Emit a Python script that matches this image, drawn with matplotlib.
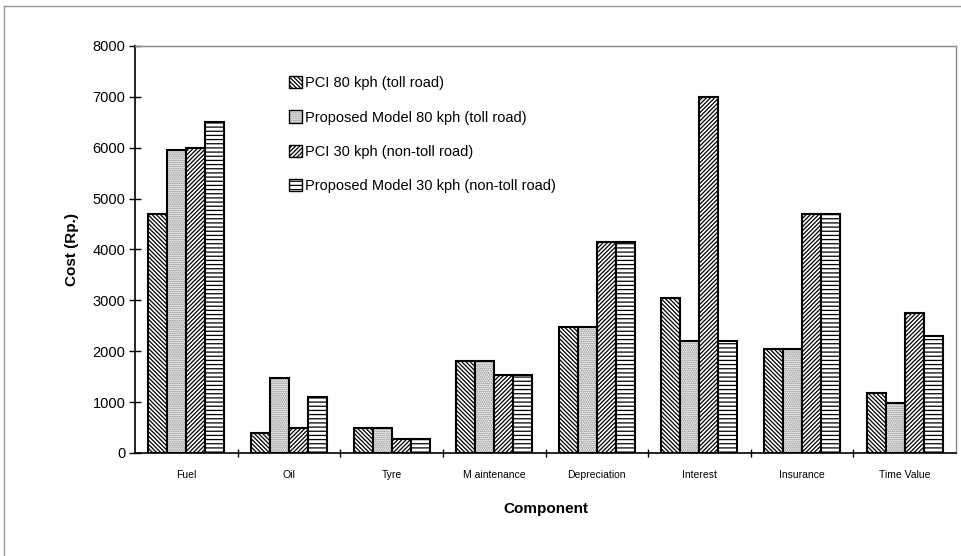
import matplotlib
matplotlib.use("Agg")
import matplotlib.pyplot as plt
from matplotlib.lines import Line2D
from matplotlib.patches import Patch
from matplotlib.legend_handler import HandlerTuple
import numpy as np

plt.rcParams['font.family'] = ['Liberation Sans', 'DejaVu Sans']
plt.rcParams['hatch.linewidth'] = 0.9

components = ["Fuel", "Oil", "Tyre", "M aintenance", "Depreciation",
              "Interest", "Insurance", "Time Value"]
series_names = ["PCI 80 kph (toll road)",
                "Proposed Model 80 kph (toll road)",
                "PCI 30 kph (non-toll road)",
                "Proposed Model 30 kph (non-toll road)"]
pci_80 = [4700, 400, 500, 1800, 2480, 3050, 2050, 1180]
model_80 = [5950, 1480, 500, 1800, 2480, 2200, 2050, 980]
pci_30 = [6000, 500, 280, 1530, 4150, 7000, 4700, 2750]
model_30 = [6500, 1100, 280, 1530, 4150, 2200, 4700, 2300]
hatches = ["\\" * 8, "." * 8, "/" * 8, "----"]
# stipple pattern is drawn in grey, the rest in black
hatch_colors = ["black", "#7c7c7c", "black", "black"]

fig = plt.figure(figsize=(9.61, 5.56), dpi=100)
ax = fig.add_axes([0.1405, 0.1853, 0.8543, 0.732])

x = np.arange(len(components))
w = 0.185
handles = []
for i, vals in enumerate([pci_80, model_80, pci_30, model_30]):
    pos = x + (i - 1.5) * w
    ax.bar(pos, vals, w, color="white", edgecolor=hatch_colors[i],
           hatch=hatches[i], linewidth=0)
    ax.bar(pos, vals, w, fill=False, edgecolor="black", linewidth=1.5)
    handles.append((Patch(facecolor="white", edgecolor=hatch_colors[i],
                          hatch=hatches[i], linewidth=0),
                    Patch(fill=False, edgecolor="black", linewidth=1.0)))

ax.set_xlim(-0.5, len(components) - 0.5)
ax.set_ylim(0, 8000)
ax.set_yticks(range(0, 8001, 1000))
ax.set_xticks(x)
ax.set_xticklabels(components, fontsize=7.5)
ax.set_xticks(x[:-1] + 0.5, minor=True)
ax.tick_params(axis="x", which="major", length=0, pad=12)
ax.tick_params(axis="x", which="minor", direction="inout", length=6, width=1)
ax.tick_params(axis="y", direction="inout", length=8, width=1, labelsize=10.5, pad=3)

ax.set_ylabel("Cost (Rp.)", fontsize=11, fontweight="bold", labelpad=10)
ax.set_xlabel("Component", fontsize=11, fontweight="bold", labelpad=16)

for side in ("top", "right"):
    ax.spines[side].set_color("#888888")
    ax.spines[side].set_linewidth(1.0)
for side in ("left", "bottom"):
    ax.spines[side].set_color("black")
    ax.spines[side].set_linewidth(1.2)

ax.legend(handles, series_names, handler_map={tuple: HandlerTuple(ndivide=1)},
          loc="upper left", bbox_to_anchor=(0.18, 0.94), frameon=False,
          fontsize=10.5, handlelength=0.9, handleheight=0.9,
          handletextpad=0.25, labelspacing=1.38, borderaxespad=0)

# thin border round the whole figure
fig.add_artist(Line2D([4 / 961, 1], [1 - 6 / 556, 1 - 6 / 556],
                      transform=fig.transFigure, color="#999999", lw=1))
fig.add_artist(Line2D([4 / 961, 4 / 961], [0, 1 - 6 / 556],
                      transform=fig.transFigure, color="#999999", lw=1))

fig.savefig("out.png", dpi=100)
